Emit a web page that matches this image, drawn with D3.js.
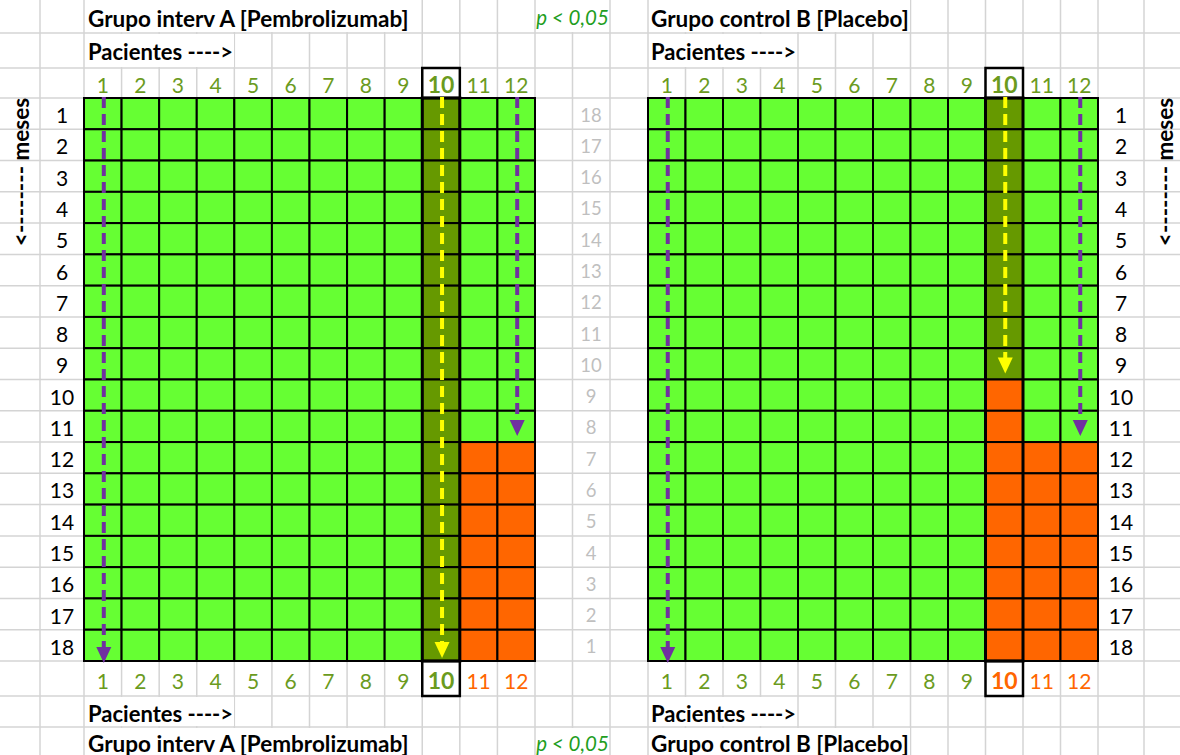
<!DOCTYPE html>
<html><head><meta charset="utf-8">
<script src="https://cdn.jsdelivr.net/npm/d3@7"></script>
<style>body{margin:0;background:#fff}svg{display:block}text{font-family:Lato,"Open Sans",sans-serif}</style>
</head><body>
<svg id="c" width="1180" height="755"></svg>
<script>
// ---- data ----
const patients = [1,2,3,4,5,6,7,8,9,10,11,12];
const months = [1,2,3,4,5,6,7,8,9,10,11,12,13,14,15,16,17,18];
const middleLabels = [18,17,16,15,14,13,12,11,10,9,8,7,6,5,4,3,2,1];
const highlightPatient = 10;
// month at which each patient's event starts (null = no event during 18 months)
const eventMonthA = [null,null,null,null,null,null,null,null,null,null,12,12];
const eventMonthB = [null,null,null,null,null,null,null,null,null,10,12,12];
// arrows: [patient, last month reached, kind]
const arrowsA = [[1,18,"all"],[12,11,"all"],[10,18,"focus"]];
const arrowsB = [[1,18,"all"],[12,11,"all"],[10,9,"focus"]];
const titleA = "Grupo interv A [Pembrolizumab]";
const titleB = "Grupo control B [Placebo]";
const axisTitle = "Pacientes ---->";
const sideTitle = "<-------- meses";
const pText = "p < 0,05";

// ---- layout ----
const svg = d3.select("#c");
const W = 1180, H = 755;
const C = {green:"#66FF33", dark:"#669900", orange:"#FF6600", txtGreen:"#6B9B1E", purple:"#7030A0", yellow:"#FFFF00", grid:"#D4D4D4", p:"#1F9E1F", mid:"#BFBFBF"};
const xA = d3.scaleBand().domain(patients).range([84,535]);
const xB = d3.scaleBand().domain(patients).range([648,1098]);
const y = d3.scaleBand().domain(months).range([98,661]);
const yMid = d3.scaleBand().domain(middleLabels).range([98,661]);

// spreadsheet grid
const colLines = [40,84].concat(patients.map(p=>xA(p)+xA.bandwidth()),[572.5,610],[648],patients.map(p=>xB(p)+xB.bandwidth()),[1144]);
const rowLines = [33,68,98].concat(months.map(m=>y(m)+y.bandwidth()),[696,727]);
const g0 = svg.append("g");
g0.selectAll("line.v").data(colLines).join("line").attr("x1",d=>d).attr("x2",d=>d).attr("y1",0).attr("y2",H).attr("stroke",C.grid).attr("stroke-width",1.5);
g0.selectAll("line.h").data(rowLines).join("line").attr("y1",d=>d).attr("y2",d=>d).attr("x1",0).attr("x2",W).attr("stroke",C.grid).attr("stroke-width",1.5);
// overflow text areas hide gridlines
const covers = [[85,421,0,32],[85,234,34,67],[536,609,0,32],[649,910,0,32],[649,797,34,67],
                [85,234,697,726],[85,421,728,755],[536,609,728,755],[649,797,697,726],[649,910,728,755]];
g0.selectAll("rect").data(covers).join("rect").attr("x",d=>d[0]).attr("width",d=>d[1]-d[0]).attr("y",d=>d[2]).attr("height",d=>d[3]-d[2]).attr("fill","#fff");

// headings
function txt(x,yy,s,o={}){
  return svg.append("text").attr("x",x).attr("y",yy).attr("dominant-baseline","central")
   .attr("font-size",o.size||21).attr("font-weight",o.bold?"bold":"normal").attr("font-style",o.italic?"italic":"normal")
   .attr("fill",o.fill||"#000").attr("text-anchor",o.anchor||"start").text(s);
}
[[titleA,88],[titleB,651]].forEach(([t,x])=>{txt(x,18,t,{bold:true,size:22.5});txt(x,743,t,{bold:true,size:22.5});});
[88,651].forEach(x=>{txt(x,51,axisTitle,{bold:true,size:22});txt(x,713,axisTitle,{bold:true,size:22});});
txt(572.5,17,pText,{italic:true,fill:C.p,anchor:"middle",size:20.5});
txt(572.5,743,pText,{italic:true,fill:C.p,anchor:"middle",size:20.5});

function panel(x, events, arrows){
  const g = svg.append("g");
  const cells = [];
  patients.forEach((p,i)=>months.forEach(m=>{
    const ev = events[i];
    let fill = C.green;
    if (ev!==null && m>=ev) fill = C.orange;
    else if (p===highlightPatient) fill = C.dark;
    cells.push({p,m,fill});
  }));
  g.selectAll("rect.cell").data(cells).join("rect")
    .attr("x",d=>x(d.p)).attr("y",d=>y(d.m)).attr("width",x.bandwidth()).attr("height",y.bandwidth())
    .attr("fill",d=>d.fill).attr("stroke","#000").attr("stroke-width",2);
  // highlight column outline
  g.append("rect").attr("x",x(highlightPatient)).attr("y",y(1)).attr("width",x.bandwidth()).attr("height",y.range()[1]-y(1))
    .attr("fill","none").attr("stroke","#000").attr("stroke-width",3);
  g.append("rect").attr("x",x.range()[0]).attr("y",y.range()[0]).attr("width",x.range()[1]-x.range()[0]).attr("height",y.range()[1]-y.range()[0])
    .attr("fill","none").attr("stroke","#000").attr("stroke-width",2);
  // top & bottom patient labels
  patients.forEach((p,i)=>{
    const hl = p===highlightPatient;
    const cx = x(p)+x.bandwidth()/2;
    txt(cx,84,p,{anchor:"middle",fill:C.txtGreen,bold:hl,size:hl?23:21});
    const bottomCol = events[i]!==null ? C.orange : C.txtGreen;
    txt(cx,680,p,{anchor:"middle",fill:bottomCol,bold:hl,size:hl?23:21});
    if (hl){
      g.append("rect").attr("x",x(p)).attr("y",68).attr("width",x.bandwidth()).attr("height",30).attr("fill","none").attr("stroke","#000").attr("stroke-width",2.5);
      g.append("rect").attr("x",x(p)).attr("y",661).attr("width",x.bandwidth()).attr("height",35).attr("fill","none").attr("stroke","#000").attr("stroke-width",2.5);
    }
  });
  // arrows
  arrows.forEach(([p,mEnd,kind])=>{
    const col = kind==="focus" ? C.yellow : C.purple;
    const cx = x(p)+x.bandwidth()/2 + 1;
    const y0 = y(1)-1;
    const tip = mEnd===18 ? y(mEnd)+y.bandwidth()+ (kind==="focus"?-3:2) : y(mEnd)+y.bandwidth()-6;
    g.append("line").attr("x1",cx).attr("x2",cx).attr("y1",y0).attr("y2",tip-10)
      .attr("stroke",col).attr("stroke-width",4).attr("stroke-dasharray","11,6");
    g.append("path").attr("d",`M${cx-7.5},${tip-16}L${cx+7.5},${tip-16}L${cx},${tip}Z`).attr("fill",col);
  });
}
panel(xA, eventMonthA, arrowsA);
panel(xB, eventMonthB, arrowsB);

// month labels
months.forEach(m=>{
  const cy = y(m)+y.bandwidth()/2+1;
  txt(62,cy,m,{anchor:"middle"});
  txt(1121,cy,m,{anchor:"middle"});
});
middleLabels.forEach(v=>txt(591,yMid(v)+yMid.bandwidth()/2+1,v,{anchor:"middle",fill:C.mid,size:18.5}));

// side titles
svg.append("text").attr("transform","translate(20,172) rotate(-90)").attr("text-anchor","middle").attr("dominant-baseline","central")
  .attr("font-size",22.5).attr("font-weight","bold").text(sideTitle);
svg.append("text").attr("transform","translate(1164,172) rotate(-90)").attr("text-anchor","middle").attr("dominant-baseline","central")
  .attr("font-size",22.5).attr("font-weight","bold").text(sideTitle);
</script>
</body></html>
